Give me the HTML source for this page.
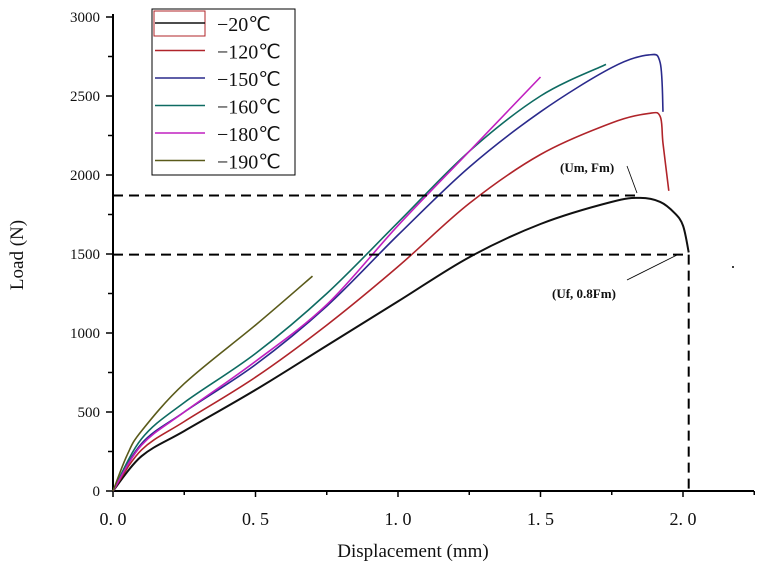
<!DOCTYPE html>
<html><head><meta charset="utf-8"><style>
body{margin:0;background:#fff}
svg text{font-family:"Liberation Serif",serif;fill:#111}
</style></head><body>
<svg id="chart" width="759" height="573" xmlns="http://www.w3.org/2000/svg">
<g id="axes"></g><g id="series"></g><g id="annot"></g><g id="legend"></g>
</svg>
<script>
const xTicks=[0,0.5,1.0,1.5,2.0];
const xTickLabels=["0. 0","0. 5","1. 0","1. 5","2. 0"];
const yTicks=[0,500,1000,1500,2000,2500,3000];
const seriesNames=["\u221220\u2103","\u2212120\u2103","\u2212150\u2103","\u2212160\u2103","\u2212180\u2103","\u2212190\u2103"];
const seriesColors=["#111","#b0242a","#2a2a8c","#0e6b62","#c020c0","#5a5a1a"];
const s20=[[0,0],[0.1,220],[0.25,380],[0.5,640],[0.75,920],[1.0,1200],[1.25,1480],[1.5,1690],[1.75,1830],[1.85,1855],[1.92,1830],[1.97,1760],[2.0,1680],[2.02,1510]];
const s120=[[0,0],[0.1,260],[0.25,440],[0.5,720],[0.75,1050],[1.0,1420],[1.25,1820],[1.5,2130],[1.75,2330],[1.88,2390],[1.92,2370],[1.93,2200],[1.95,1900]];
const s150=[[0,0],[0.1,300],[0.25,500],[0.5,800],[0.75,1170],[1.0,1620],[1.25,2050],[1.5,2400],[1.75,2680],[1.88,2760],[1.92,2710],[1.93,2400]];
const s160=[[0,0],[0.1,330],[0.25,560],[0.5,870],[0.75,1250],[1.0,1700],[1.25,2150],[1.5,2500],[1.73,2700]];
const s180=[[0,0],[0.1,290],[0.25,500],[0.5,820],[0.75,1180],[1.0,1680],[1.25,2150],[1.5,2620]];
const s190=[[0,0],[0.05,230],[0.1,380],[0.25,680],[0.5,1050],[0.7,1360]];
const seriesData=[s20,s120,s150,s160,s180,s190];
const Fm=1870, Uf=2.02;

const NS="http://www.w3.org/2000/svg";
const X=v=>113+v*285, Y=v=>491-v*0.158;
function mk(p,t,a){const e=document.createElementNS(NS,t);for(const k in a)e.setAttribute(k,a[k]);p.appendChild(e);return e;}
function smooth(pts){
 const P=pts.map(p=>[X(p[0]),Y(p[1])]);
 let d='M'+P[0][0]+','+P[0][1];
 for(let i=0;i<P.length-1;i++){
  const p0=P[Math.max(0,i-1)],p1=P[i],p2=P[i+1],p3=P[Math.min(P.length-1,i+2)];
  const c1=[p1[0]+(p2[0]-p0[0])/6,p1[1]+(p2[1]-p0[1])/6];
  const c2=[p2[0]-(p3[0]-p1[0])/6,p2[1]-(p3[1]-p1[1])/6];
  d+=' C'+c1[0].toFixed(1)+','+c1[1].toFixed(1)+' '+c2[0].toFixed(1)+','+c2[1].toFixed(1)+' '+p2[0].toFixed(1)+','+p2[1].toFixed(1);
 }
 return d;
}
const ax=document.getElementById('axes');
let e=mk(ax,'line',{x1:113,y1:491,x2:754,y2:491,stroke:'#000','stroke-width':2});

e=mk(ax,'line',{x1:113,y1:491,x2:113,y2:14,stroke:'#000','stroke-width':2});

for(let v=0;v<=2.25;v+=0.25){mk(ax,'line',{x1:X(v),y1:491,x2:X(v),y2:Math.abs(v*2-Math.round(v*2))<1e-6?497:495,stroke:'#000','stroke-width':1.5});}
xTicks.forEach((v,i)=>{e=mk(ax,'text',{x:X(v),y:525,'text-anchor':'middle','font-size':18});e.textContent=xTickLabels[i];
});
for(let v=0;v<=3000;v+=250){mk(ax,'line',{x1:113,y1:Y(v),x2:v%500?108:106,y2:Y(v),stroke:'#000','stroke-width':1.5});}
yTicks.forEach(v=>{e=mk(ax,'text',{x:100,y:Y(v)+5,'text-anchor':'end','font-size':15});e.textContent=v;
});
e=mk(ax,'text',{x:413,y:557,'text-anchor':'middle','font-size':19});e.textContent='Displacement (mm)';

e=mk(ax,'text',{x:0,y:0,'text-anchor':'middle','font-size':19,transform:'translate(23,255) rotate(-90)'});e.textContent='Load (N)';


const sg=document.getElementById('series');
seriesData.forEach((d,i)=>{
 e=mk(sg,'path',{d:smooth(d),fill:'none',stroke:seriesColors[i],'stroke-width':i==0?2:1.6,'stroke-linejoin':'round'});
 
});
const an=document.getElementById('annot');
e=mk(an,'line',{x1:113,y1:Y(Fm),x2:640,y2:Y(Fm),stroke:'#000','stroke-width':2,'stroke-dasharray':'10,6'});

e=mk(an,'line',{x1:113,y1:Y(0.8*Fm),x2:X(Uf),y2:Y(0.8*Fm),stroke:'#000','stroke-width':2,'stroke-dasharray':'10,6'});

e=mk(an,'line',{x1:X(Uf),y1:Y(0.8*Fm),x2:X(Uf),y2:491,stroke:'#000','stroke-width':2,'stroke-dasharray':'10,6'});

mk(an,'line',{x1:627,y1:166,x2:637,y2:193,stroke:'#000','stroke-width':0.8});
mk(an,'line',{x1:677,y1:255,x2:627,y2:280,stroke:'#000','stroke-width':0.8});
e=mk(an,'text',{x:560,y:172,'font-size':13,'font-weight':'bold','font-family':'Liberation Sans'});e.textContent='(Um, Fm)';

e=mk(an,'text',{x:552,y:298,'font-size':13,'font-weight':'bold','font-family':'Liberation Sans'});e.textContent='(Uf, 0.8Fm)';

mk(an,'circle',{cx:733,cy:267,r:1,fill:'#000'});

const lg=document.getElementById('legend');
e=mk(lg,'rect',{x:152,y:9,width:143,height:166,fill:'#fff',stroke:'#000','stroke-width':1});

mk(lg,'rect',{x:154,y:11,width:51,height:25,fill:'none',stroke:'#b0242a','stroke-width':1});
seriesNames.forEach((n,i)=>{const y=23+i*27.5;
 mk(lg,'line',{x1:155,y1:y,x2:205,y2:y,stroke:seriesColors[i],'stroke-width':1.6});
 e=mk(lg,'text',{x:217,y:y+8,'font-size':20,'font-family':'Liberation Sans'});e.textContent=n;
 
});
</script>
</body></html>
